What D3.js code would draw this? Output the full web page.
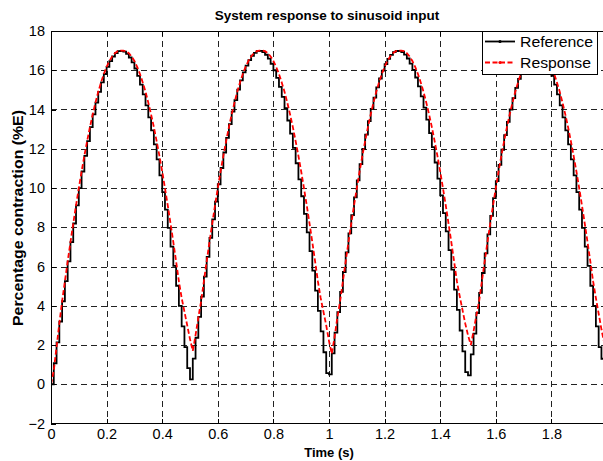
<!DOCTYPE html>
<html>
<head>
<meta charset="utf-8">
<script src="https://cdn.jsdelivr.net/npm/d3@7"></script>
<style>
  html, body { margin: 0; padding: 0; background: #fff; }
  svg { display: block; font-family: "Liberation Sans", Arial, sans-serif; }
</style>
</head>
<body>
<svg id="chart" width="603" height="461"></svg>
<script>
// ---------------- data ----------------
const sampleStep = 0.01;           // seconds between samples (zero-order hold)
const xTicks = [0, 0.2, 0.4, 0.6, 0.8, 1, 1.2, 1.4, 1.6, 1.8, 2];
const yTicks = [-2, 0, 2, 4, 6, 8, 10, 12, 14, 16, 18];
const seriesNames = ["Reference", "Response"];

// Reference (staircase), one array per half period of 0.5 s
const referenceA = [0,1.07,2.13,3.19,4.23,5.25,6.26,7.24,8.19,9.11,9.99,10.84,11.64,12.39,13.10,13.75,14.35,14.90,15.38,15.81,16.17,16.47,16.70,16.87,16.97,
  16.99,16.95,16.83,16.65,16.40,16.09,15.71,15.27,14.77,14.21,13.60,12.94,12.22,11.46,10.64,9.79,8.90,7.97,7.01,6.03,5.02,3.99,2.95,1.89,0.82];
const referenceB = [0.25,1.31,2.37,3.43,4.46,5.48,6.49,7.46,8.40,9.31,10.19,11.02,11.81,12.55,13.25,13.89,14.48,15.01,15.48,15.89,16.24,16.52,16.74,16.89,16.98,
  16.99,16.92,16.79,16.59,16.33,16.00,15.61,15.15,14.64,14.07,13.44,12.77,12.04,11.26,10.44,9.58,8.68,7.74,6.78,5.79,4.77,3.74,2.69,1.63,0.57];
const referenceC = [0.50,1.57,2.63,3.68,4.71,5.72,6.72,7.69,8.62,9.52,10.39,11.22,11.99,12.72,13.41,14.03,14.61,15.13,15.58,15.98,16.31,16.58,16.78,16.92,16.98,
  16.99,16.93,16.80,16.60,16.34,16.02,15.63,15.18,14.67,14.10,13.48,12.80,12.08,11.30,10.48,9.62,8.72,7.79,6.83,5.84,4.82,3.79,2.74,1.68,0.62];
const referenceD = [0.45,1.52,2.58,3.63,4.66,5.67,6.67,7.64,8.58,9.48,10.35,11.18,11.95,12.69,13.37,14.00,14.58,15.10,15.56,15.96,16.30,16.57,16.77,16.91,16.98,
  16.95,16.83,16.65,16.40,16.09,15.71,15.27,14.77,14.21,13.60,12.94,12.22,11.46,10.64,9.79,8.90,7.97,7.01,6.03,5.02,3.99,2.95,1.89,1.30,0.60];

// Response (dashed red), same sampling
const responseA = [0,0.7,1.9,3.1,4.23,5.25,6.26,7.24,8.19,9.11,9.99,10.84,11.64,12.39,13.10,13.75,14.35,14.90,15.38,15.81,16.17,16.47,16.70,16.87,16.97,17.00,
  17.00,16.97,16.87,16.70,16.47,16.17,15.81,15.38,14.90,14.35,13.75,13.10,12.39,11.64,10.84,9.99,9.11,8.19,7.24,6.26,5.25,4.4,3.7,3.0];
const responseB = [2.3,1.7,2.5,3.4,4.23,5.25,6.26,7.24,8.19,9.11,9.99,10.84,11.64,12.39,13.10,13.75,14.35,14.90,15.38,15.81,16.17,16.47,16.70,16.87,16.97,17.00,
  17.00,16.97,16.87,16.70,16.47,16.17,15.81,15.38,14.90,14.35,13.75,13.10,12.39,11.64,10.84,9.99,9.11,8.19,7.24,6.26,5.25,4.4,3.7,3.0];
const responseC = [2.2,1.55,2.4,3.4,4.23,5.25,6.26,7.24,8.19,9.11,9.99,10.84,11.64,12.39,13.10,13.75,14.35,14.90,15.38,15.81,16.17,16.47,16.70,16.87,16.97,17.00,
  17.00,16.97,16.87,16.70,16.47,16.17,15.81,15.38,14.90,14.35,13.75,13.10,12.39,11.64,10.84,9.99,9.11,8.19,7.24,6.26,5.25,4.5,3.8,3.1];
const responseD = [2.5,2.0,2.7,3.5,4.23,5.25,6.26,7.24,8.19,9.11,9.99,10.84,11.64,12.39,13.10,13.75,14.35,14.90,15.38,15.81,16.17,16.47,16.70,16.87,16.97,
  17.00,16.97,16.87,16.70,16.47,16.17,15.81,15.38,14.90,14.35,13.75,13.10,12.39,11.64,10.84,9.99,9.11,8.19,7.24,6.26,5.25,4.4,3.6,2.8,2.1];

const referenceValues = referenceA.concat(referenceB, referenceC, referenceD);
const responseValues  = responseA.concat(responseB, responseC, responseD);

// ---------------- layout ----------------
const W = 603, H = 461;
const plot = { left: 51, right: 607, top: 31, bottom: 423.5 };

const svg = d3.select("#chart");
const x = d3.scaleLinear().domain([0, 2]).range([plot.left, plot.right]);
const y = d3.scaleLinear().domain([-2, 18]).range([plot.bottom, plot.top]);

const refPts  = referenceValues.map((v, i) => [i * sampleStep, v]);
const respPts = responseValues.map((v, i) => [i * sampleStep, v]);

svg.append("rect").attr("width", W).attr("height", H).attr("fill", "#fff");

svg.append("defs").append("clipPath").attr("id", "clip")
  .append("rect")
  .attr("x", plot.left).attr("y", plot.top)
  .attr("width", plot.right - plot.left).attr("height", plot.bottom - plot.top);

// grid
const grid = svg.append("g").attr("shape-rendering", "crispEdges");
grid.selectAll("line.gx").data(xTicks.filter(t => t > 0 && t < 2)).join("line")
  .attr("x1", d => Math.round(x(d)) + 0.5).attr("x2", d => Math.round(x(d)) + 0.5)
  .attr("y1", plot.top).attr("y2", plot.bottom)
  .attr("stroke", "#222").attr("stroke-width", 1).attr("stroke-dasharray", "6,4");
grid.selectAll("line.gy").data(yTicks.filter(t => t > -2 && t < 18)).join("line")
  .attr("y1", d => Math.round(y(d)) + 0.5).attr("y2", d => Math.round(y(d)) + 0.5)
  .attr("x1", plot.left).attr("x2", plot.right)
  .attr("stroke", "#222").attr("stroke-width", 1).attr("stroke-dasharray", "6,4");

// series
const gData = svg.append("g").attr("clip-path", "url(#clip)");
const stairs = d3.line().x(d => x(d[0])).y(d => y(d[1])).curve(d3.curveStepAfter);
const smooth = d3.line().x(d => x(d[0])).y(d => y(d[1]));

gData.append("path").datum(refPts).attr("d", stairs)
  .attr("fill", "none").attr("stroke", "#000").attr("stroke-width", 1.8)
  .attr("stroke-linejoin", "miter");
gData.append("path").datum(respPts).attr("d", smooth)
  .attr("fill", "none").attr("stroke", "#ff0000").attr("stroke-width", 1.8)
  .attr("stroke-dasharray", "5,2.5");

// axes (ticks inside, MATLAB style)
const fmt = d3.format("~g");
const axB = svg.append("g").attr("transform", `translate(0,${plot.bottom})`)
  .call(d3.axisBottom(x).tickValues(xTicks).tickFormat(fmt).tickSizeInner(-5).tickSizeOuter(0).tickPadding(5));
const axT = svg.append("g").attr("transform", `translate(0,${plot.top})`)
  .call(d3.axisTop(x).tickValues(xTicks).tickFormat("").tickSizeInner(-5).tickSizeOuter(0));
const axL = svg.append("g").attr("transform", `translate(${plot.left},0)`)
  .call(d3.axisLeft(y).tickValues(yTicks).tickFormat(fmt).tickSizeInner(-5).tickSizeOuter(0).tickPadding(6));
[axB, axT, axL].forEach(g => {
  g.select(".domain").remove();
  g.selectAll("line").attr("stroke", "#000").attr("shape-rendering", "crispEdges");
  g.selectAll("text").attr("fill", "#000").style("font-size", "14.5px")
    .style("font-family", '"Liberation Sans", Arial, sans-serif');
});

// frame
svg.append("rect")
  .attr("x", plot.left + 0.5).attr("y", plot.top + 0.5)
  .attr("width", plot.right - plot.left).attr("height", plot.bottom - plot.top - 1)
  .attr("fill", "none").attr("stroke", "#000").attr("stroke-width", 1)
  .attr("shape-rendering", "crispEdges");

// titles
svg.append("text").attr("x", 327).attr("y", 20).attr("text-anchor", "middle")
  .style("font-size", "13.5px").style("font-weight", "bold").text("System response to sinusoid input");
svg.append("text").attr("x", 329).attr("y", 457).attr("text-anchor", "middle")
  .style("font-size", "13px").style("font-weight", "bold").text("Time (s)");
svg.append("text").attr("transform", "translate(23,218) rotate(-90)").attr("text-anchor", "middle")
  .attr("textLength", 216).attr("lengthAdjust", "spacingAndGlyphs")
  .style("font-size", "14px").style("font-weight", "bold").text("Percentage contraction (%E)");

// legend
const lg = svg.append("g");
lg.append("rect").attr("x", 482.5).attr("y", 31.5).attr("width", 115).attr("height", 43)
  .attr("fill", "#fff").attr("stroke", "#000").attr("stroke-width", 1).attr("shape-rendering", "crispEdges");
const legendRows = [
  { name: seriesNames[0], color: "#000", dash: null, yy: 41.5, len: 73 },
  { name: seriesNames[1], color: "#ff0000", dash: "5,2.5", yy: 62.5, len: 71 }
];
legendRows.forEach(r => {
  lg.append("line").attr("x1", 485).attr("x2", 515).attr("y1", r.yy).attr("y2", r.yy)
    .attr("stroke", r.color).attr("stroke-width", 1.8).attr("stroke-dasharray", r.dash);
  lg.append("circle").attr("cx", 500).attr("cy", r.yy).attr("r", 1.6).attr("fill", r.color);
  lg.append("text").attr("x", 520).attr("y", r.yy + 5)
    .attr("textLength", r.len).attr("lengthAdjust", "spacingAndGlyphs")
    .style("font-size", "14.5px").text(r.name);
});
</script>
</body>
</html>
